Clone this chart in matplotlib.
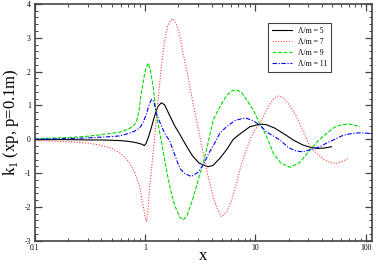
import matplotlib
matplotlib.use('Agg')
import matplotlib.pyplot as plt
from matplotlib.ticker import MultipleLocator, LogLocator, FixedLocator, FixedFormatter, NullFormatter

plt.rcParams['font.family'] = ['Liberation Serif', 'DejaVu Serif']
plt.rcParams['mathtext.fontset'] = 'custom'
plt.rcParams['mathtext.rm'] = 'Liberation Serif'
plt.rcParams['axes.unicode_minus'] = False

# --- data ---
x5 = [0.1, 0.2, 0.3, 0.4, 0.5, 0.6, 0.7, 0.8, 0.9, 0.95, 0.98, 1.02, 1.08, 1.15, 1.22, 1.3, 1.4,
      1.5, 1.67, 1.85, 2.06, 2.37, 2.7, 3.1, 3.7, 4.1, 4.8, 5.5, 6.3, 7.0, 8.9, 11, 12.6, 15, 19,
      22, 27, 31, 36, 42, 49]
y5 = [-0.01, -0.01, -0.02, -0.02, -0.03, -0.04, -0.06, -0.09, -0.13, -0.16, -0.19, -0.12, 0.1,
      0.4, 0.7, 0.96, 1.08, 1.02, 0.7, 0.4, 0.15, -0.2, -0.5, -0.71, -0.81, -0.78, -0.55, -0.3,
      0.0, 0.12, 0.37, 0.45, 0.43, 0.33, 0.12, -0.02, -0.17, -0.23, -0.27, -0.26, -0.22]

x7 = [0.1, 0.2, 0.3, 0.385, 0.5, 0.586, 0.65, 0.72, 0.8, 0.89, 0.95, 1.0, 1.03, 1.06, 1.1, 1.18,
      1.25, 1.31, 1.4, 1.5, 1.6, 1.7, 1.79, 1.92, 2.05, 2.21, 2.38, 2.54, 2.72, 2.92, 3.15, 3.36,
      3.7, 4.14, 4.5, 4.93, 5.5, 6.08, 6.8, 7.5, 8.3, 9.2, 10, 11, 11.8, 13, 14.5, 16.1, 18, 20,
      23.6, 27, 31.3, 36, 42, 48, 54.7, 62, 69.8]
y7 = [-0.04, -0.07, -0.11, -0.17, -0.27, -0.4, -0.52, -0.7, -0.97, -1.4, -1.9, -2.3, -2.44,
      -2.1, -1.4, -0.41, 0.45, 1.16, 2.15, 2.9, 3.35, 3.52, 3.56, 3.4, 3.1, 2.54, 2.05, 1.56,
      1.05, 0.57, 0.05, -0.41, -1.05, -1.7, -2.05, -2.29, -2.15, -1.8, -1.25, -0.71, -0.3, 0.08,
      0.3, 0.47, 0.67, 0.95, 1.18, 1.28, 1.22, 1.05, 0.67, 0.25, -0.22, -0.42, -0.6, -0.69,
      -0.71, -0.65, -0.56]

x9 = [0.1, 0.2, 0.3, 0.385, 0.5, 0.586, 0.65, 0.72, 0.78, 0.83, 0.88, 0.92, 0.96, 0.99, 1.03,
      1.07, 1.12, 1.18, 1.26, 1.31, 1.4, 1.56, 1.7, 1.85, 2.06, 2.21, 2.4, 2.65, 2.92, 3.15, 3.36,
      3.7, 4.14, 4.76, 5.5, 6.2, 6.74, 7.5, 8.4, 9.55, 11, 11.8, 13, 14.5, 17, 20.6, 25, 31.3, 37,
      44.4, 52, 60, 69.8, 79, 89]
y9 = [0.02, 0.05, 0.09, 0.13, 0.18, 0.21, 0.26, 0.32, 0.4, 0.5, 0.85, 1.36, 1.7, 1.95, 2.15,
      2.25, 2.0, 1.56, 0.77, 0.47, -0.05, -0.91, -1.5, -1.95, -2.3, -2.39, -2.25, -1.85, -1.4,
      -1.0, -0.71, -0.15, 0.57, 0.96, 1.3, 1.44, 1.46, 1.38, 1.15, 0.87, 0.45, 0.28, 0.0, -0.41,
      -0.7, -0.83, -0.7, -0.32, -0.05, 0.18, 0.35, 0.43, 0.45, 0.42, 0.37]

x11 = [0.1, 0.2, 0.3, 0.385, 0.5, 0.586, 0.72, 0.8, 0.89, 0.96, 1.03, 1.08, 1.14, 1.2, 1.26,
       1.38, 1.5, 1.67, 1.85, 2.06, 2.3, 2.63, 3.0, 3.36, 3.8, 4.3, 4.75, 5.47, 6.5, 7.7, 8.3,
       9.5, 11, 12.6, 14.5, 16.7, 20, 23.6, 27.2, 32, 38.5, 45, 51, 62.8, 75, 88, 102, 114]
y11 = [0.0, 0.02, 0.04, 0.06, 0.08, 0.1, 0.18, 0.24, 0.33, 0.5, 0.77, 1.0, 1.18, 1.12, 0.77,
       0.45, 0.18, -0.05, -0.45, -0.86, -1.02, -1.1, -0.98, -0.76, -0.4, -0.1, 0.18, 0.37, 0.55,
       0.62, 0.62, 0.55, 0.42, 0.22, 0.1, -0.02, -0.25, -0.35, -0.37, -0.3, -0.22, -0.1, -0.02,
       0.12, 0.17, 0.19, 0.18, 0.17]

labels = ['Λ/m = 5', 'Λ/m = 7', 'Λ/m = 9', 'Λ/m = 11']

fig = plt.figure(figsize=(3.76, 2.64), dpi=100)
ax = fig.add_axes([0.093, 0.088, 0.896, 0.897])

lw = 0.8
ax.plot(x5, y5, color='black', lw=lw, label=labels[0])
ax.plot(x7, y7, color='#ff4040', lw=lw, ls=(0, (1, 1.5)), label=labels[1])
ax.plot(x9, y9, color='#00dd00', lw=lw, ls=(0, (3.5, 1.5)), label=labels[2])
ax.plot(x11, y11, color='#0000ff', lw=lw, ls=(0, (4, 1.5, 1, 1.5)), label=labels[3])

ax.set_xscale('log')
ax.set_xlim(0.1, 114)
ax.set_ylim(-3, 4)

ax.xaxis.set_major_locator(FixedLocator([0.1, 1, 10, 100]))
ax.xaxis.set_major_formatter(FixedFormatter(['0.1', '1', '10', '100']))
ax.xaxis.set_minor_locator(LogLocator(base=10, subs=range(2, 10)))
ax.xaxis.set_minor_formatter(NullFormatter())
ax.yaxis.set_major_locator(MultipleLocator(1))
ax.yaxis.set_minor_locator(MultipleLocator(0.2))

ax.tick_params(which='both', direction='in', top=True, right=True, colors='#444444',
               labelcolor='black', labelsize=5.5)
ax.tick_params(which='major', length=5, width=0.9)
ax.tick_params(which='minor', length=2.5, width=0.7)
ax.tick_params(axis='x', pad=2)
ax.tick_params(axis='y', pad=3)
for s in ax.spines.values():
    s.set_color('#444444')
    s.set_linewidth(1.2)

ax.set_xlabel('x', fontsize=12)
ax.xaxis.set_label_coords(0.5, -0.03)
ax.set_ylabel(r'k$_1$ (xp, p=0.1m)', fontsize=12)
ax.yaxis.set_label_coords(-0.04, 0.5)

leg = ax.legend(loc='upper right', bbox_to_anchor=(0.89, 0.937), fontsize=5.5,
                fancybox=False, framealpha=1, edgecolor='#444444', handlelength=2.6,
                labelspacing=0.4, borderpad=0.5, handletextpad=0.8)
leg.get_frame().set_linewidth(0.8)

fig.savefig('out.png', dpi=100)
